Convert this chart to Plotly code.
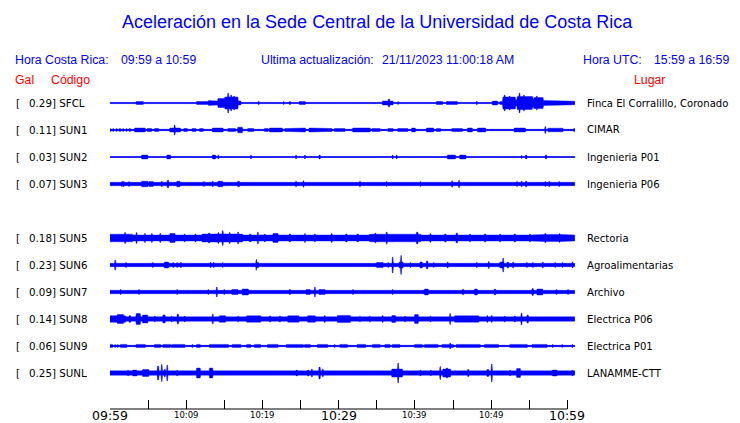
import numpy as np
import plotly.graph_objects as go

# ---------------- data ----------------
codes = ["SFCL", "SUN1", "SUN2", "SUN3", "SUN5", "SUN6", "SUN7", "SUN8", "SUN9", "SUNL"]
gal = [0.29, 0.11, 0.03, 0.07, 0.18, 0.23, 0.09, 0.14, 0.06, 0.25]
places = ["Finca El Corralillo, Coronado", "CIMAR", "Ingenieria P01", "Ingenieria P06",
          "Rectoria", "Agroalimentarias", "Archivo", "Electrica P06", "Electrica P01", "LANAMME-CTT"]
# resting half-amplitude of each trace (px)
base_amp = [0.6, 0.7, 0.5, 1.7, 3.0, 1.7, 1.7, 2.2, 0.7, 2.2]

# envelope events: (start minute, end minute, half-amplitude px), minutes after 09:59
ev_sfcl = [(0.26, 0.26, 1.3), (1.4, 1.4, 1), (1.7, 1.7, 1), (2.2, 2.2, 1), (3.5, 4.3, 1.5),
           (5.9, 5.9, 1.2), (6.2, 6.2, 1.2), (8.3, 8.3, 1), (11.4, 12.9, 1.5), (13.0, 13.8, 2.5),
           (13.8, 14.2, 2), (14.2, 15.1, 4.5), (15.1, 16.7, 6), (15.5, 15.5, 10), (15.9, 15.9, 8),
           (16.3, 16.3, 7), (16.7, 17.1, 2), (19.5, 19.5, 1.5), (22.8, 22.8, 1.5), (23.6, 23.6, 1.5),
           (24.9, 25.6, 1.5), (32.5, 32.5, 1), (33.7, 34.5, 1.2), (35.0, 35.0, 1), (35.8, 37.1, 2),
           (36.6, 36.6, 4), (37.8, 37.8, 1.5), (38.4, 38.4, 1), (40.7, 40.7, 1), (42.2, 42.2, 1),
           (42.9, 43.6, 1.5), (44.2, 45.5, 1.5), (47.0, 47.0, 1), (48.1, 48.1, 1.5), (48.9, 48.9, 1),
           (49.6, 49.6, 1), (50.2, 50.8, 2), (51.2, 51.6, 1.5), (51.6, 53.1, 6), (51.8, 51.8, 8),
           (52.4, 52.4, 7), (53.1, 53.5, 3), (53.5, 55.4, 6.5), (53.7, 53.7, 10), (54.3, 54.3, 8),
           (55.4, 55.6, 3), (55.6, 56.8, 5.5), (56.0, 56.0, 7), (56.8, 58.1, 2.5), (58.1, 61.0, 1.8)]
ev_sun1 = [(0.1, 0.1, 1.5), (0.4, 0.4, 1.5), (0.9, 0.9, 1.5), (1.3, 1.3, 1.5), (1.7, 1.7, 1.5),
           (2.2, 2.2, 1.5), (2.6, 2.6, 1.5), (3.3, 4.6, 2), (4.9, 5.4, 1.5), (5.9, 6.3, 1.5),
           (7.0, 7.0, 1), (7.5, 7.5, 1), (7.9, 9.2, 2), (8.5, 8.5, 5), (9.7, 10.1, 1.5),
           (10.8, 11.2, 1.5), (11.8, 12.2, 1.5), (12.9, 12.9, 1.2), (13.5, 14.8, 2), (15.5, 16.4, 1.5),
           (16.8, 17.3, 2.8), (18.1, 18.8, 1.5), (19.3, 19.3, 1.2), (20.3, 20.7, 1.5), (21.0, 22.6, 2),
           (23.0, 23.9, 1.5), (24.0, 25.6, 2), (26.2, 27.8, 2), (27.9, 29.1, 1.5), (29.5, 30.8, 1.5),
           (31.9, 34.1, 2), (34.4, 35.4, 1.5), (35.8, 35.8, 1.2), (36.5, 37.1, 1.5), (37.8, 39.0, 1.5),
           (39.6, 40.0, 2), (41.6, 42.4, 2), (42.9, 43.3, 1.5), (43.7, 43.7, 1.2), (44.9, 46.2, 1.5),
           (47.0, 47.5, 2), (48.3, 49.2, 2), (49.8, 49.8, 1.2), (50.5, 50.5, 1.2), (51.6, 51.6, 1.2),
           (52.2, 52.2, 1.2), (53.1, 54.4, 2), (55.4, 55.4, 1.2), (56.0, 56.0, 1.2), (57.1, 57.1, 3.5),
           (57.5, 59.4, 1.8), (60.3, 60.3, 1.2), (60.9, 60.9, 1.5)]
ev_sun2 = [(4.2, 4.9, 2), (5.2, 5.2, 1.2), (7.0, 7.0, 1.2), (7.5, 7.9, 2), (8.3, 8.3, 1.2),
           (11.5, 11.5, 1), (12.1, 12.1, 1.2), (13.5, 13.8, 2), (14.2, 14.2, 2), (15.3, 15.3, 1),
           (16.3, 16.3, 1.2), (16.8, 16.8, 1.2), (18.5, 18.5, 2), (24.4, 24.4, 2), (25.1, 25.1, 1.2),
           (25.6, 25.6, 2), (26.1, 26.1, 1.2), (27.5, 27.5, 2), (30.8, 30.8, 1), (32.8, 32.8, 1.2),
           (37.1, 37.1, 2), (37.6, 37.6, 2), (43.7, 43.7, 1.2), (44.3, 45.3, 2), (45.9, 46.6, 2),
           (48.1, 48.1, 1.2), (54.0, 54.0, 1.5), (54.6, 54.6, 2), (55.8, 55.8, 1), (57.2, 57.2, 2)]
ev_sun3 = [(1.6, 1.6, 2.8), (1.8, 1.8, 2.8), (2.5, 2.5, 2.5), (4.2, 4.9, 2.8), (5.2, 5.6, 2.6),
           (6.8, 6.8, 2.8), (7.6, 7.6, 3.8), (8.8, 9.1, 2.8), (12.3, 12.3, 2.5), (13.5, 13.5, 2.8),
           (14.2, 14.7, 2.8), (16.8, 16.9, 2.8), (24.4, 24.4, 2.8), (25.4, 25.4, 3.2), (32.8, 32.8, 2.8),
           (36.3, 36.3, 2.5), (40.7, 40.7, 2.5), (44.9, 44.9, 3.2), (45.8, 45.8, 3.8), (53.4, 53.4, 2.5),
           (54.0, 54.0, 2.8), (54.6, 54.6, 2.8), (57.1, 57.1, 2.5), (57.6, 57.6, 2.8), (58.9, 58.9, 2.5)]
ev_sun5 = [(0.0, 2.9, 3.8), (2.0, 2.0, 5.5), (3.5, 3.5, 5.5), (4.6, 4.6, 4.5), (1.0, 1.0, 4.5),
           (5.5, 5.5, 4.5), (6.6, 6.6, 4.5), (7.9, 8.5, 4.5), (9.8, 9.8, 4), (11.2, 11.2, 4),
           (12.1, 17.3, 4.0), (13.0, 13.0, 5), (14.8, 14.8, 7.5), (14.2, 14.2, 5.5), (15.7, 15.7, 5.5),
           (16.8, 16.8, 6), (19.4, 19.4, 6), (18.4, 18.4, 4), (20.3, 20.3, 4), (21.4, 22.0, 4.5),
           (23.6, 23.6, 4), (25.6, 25.6, 4.5), (26.9, 26.9, 4), (29.1, 29.1, 4.5), (31.0, 31.0, 4),
           (32.5, 32.5, 4), (34.1, 40.7, 3.8), (36.3, 36.3, 6), (34.8, 34.8, 5), (38.0, 38.0, 4.5),
           (40.3, 40.3, 6), (42.0, 42.0, 4.5), (44.0, 44.0, 4), (45.5, 45.5, 5), (47.2, 47.2, 4),
           (49.2, 49.2, 4), (51.2, 51.2, 4), (53.1, 53.1, 4), (55.1, 55.1, 4), (56.4, 60.7, 3.6),
           (57.1, 57.1, 4.8), (59.0, 59.0, 4.5)]
ev_sun6 = [(0.7, 0.7, 5), (2.1, 2.1, 2.5), (5.6, 5.6, 2.5), (7.2, 7.6, 3), (8.3, 8.3, 2.5),
           (8.8, 8.8, 2.5), (9.3, 9.3, 2.5), (13.2, 13.2, 2.5), (13.6, 13.6, 2.5), (14.8, 14.8, 2.5),
           (19.2, 19.2, 5.5), (19.4, 19.4, 3), (23.0, 24.3, 2.3), (29.5, 29.5, 2), (35.0, 35.8, 2.5),
           (36.5, 36.5, 2.5), (37.1, 37.1, 8), (38.0, 38.4, 3), (38.2, 38.2, 9.5), (39.4, 39.4, 2.5),
           (40.7, 40.9, 3), (41.6, 41.6, 4), (42.5, 42.5, 2.5), (44.3, 44.3, 3), (48.1, 48.1, 2.5),
           (49.7, 49.7, 3.5), (51.2, 51.6, 3), (51.6, 51.6, 7), (52.2, 52.2, 3), (52.9, 52.9, 3),
           (54.7, 54.7, 2.5), (55.5, 55.5, 2.5), (56.8, 56.8, 3), (58.4, 58.4, 2.5), (59.4, 59.4, 2.5),
           (60.7, 60.7, 3)]
ev_sun7 = [(1.4, 1.4, 2.5), (3.8, 3.8, 2.5), (5.0, 5.0, 2.3), (7.1, 7.1, 2.3), (8.8, 8.8, 2.5),
           (12.9, 12.9, 2.5), (14.0, 14.0, 5), (15.0, 15.0, 2.5), (16.0, 16.7, 2.5), (17.4, 18.1, 3),
           (23.6, 23.6, 2.5), (25.8, 26.2, 2.5), (26.9, 26.9, 5), (27.5, 28.2, 2.5), (30.2, 30.2, 2.3),
           (31.9, 31.9, 2.5), (33.1, 33.1, 2.3), (35.0, 35.0, 2.3), (37.1, 37.1, 2.5), (38.7, 38.7, 2.3),
           (41.3, 41.7, 3), (42.9, 42.9, 2.3), (44.9, 44.9, 2.3), (46.3, 46.3, 3), (47.9, 48.1, 3),
           (50.5, 50.5, 3), (52.1, 52.1, 2.3), (53.4, 53.4, 2.3), (55.4, 55.5, 3.5), (56.1, 56.7, 3),
           (58.6, 58.6, 2.5), (60.1, 60.1, 2.5)]
ev_sun8 = [(0.0, 2.0, 3.3), (1.0, 1.7, 4.5), (3.5, 3.9, 5.5), (4.3, 4.9, 4), (2.6, 2.6, 3.5),
           (5.9, 5.9, 3), (7.0, 7.2, 4), (8.9, 8.9, 5), (8.1, 8.1, 3), (9.8, 9.8, 3), (10.8, 12.5, 2.9),
           (13.5, 13.5, 5), (14.4, 15.1, 3.3), (16.8, 16.8, 3), (18.0, 19.7, 3.2), (21.0, 21.0, 3),
           (22.3, 22.3, 3), (23.4, 24.7, 3.2), (26.0, 26.9, 3.3), (28.2, 28.2, 3.5), (29.9, 31.5, 3.6),
           (32.8, 32.8, 3), (34.1, 34.1, 3), (35.8, 35.8, 3.5), (37.0, 37.4, 3.5), (38.7, 38.7, 3),
           (40.0, 40.4, 4.5), (42.0, 42.0, 3), (44.6, 44.6, 5.5), (45.3, 48.3, 3.2), (49.5, 49.5, 3.5),
           (50.1, 50.1, 3.5), (51.8, 51.8, 3), (53.1, 53.1, 3), (54.0, 54.0, 6), (54.8, 54.8, 4),
           (56.4, 60.7, 2.9)]
ev_sun9 = [(0.0, 0.3, 1.6), (0.7, 0.7, 1.6), (1.0, 1.0, 1.6), (1.4, 2.2, 1.6), (3.5, 4.6, 1.6),
           (5.9, 6.6, 1.6), (7.0, 7.9, 1.6), (8.1, 9.8, 1.6), (10.8, 10.8, 1.6), (11.4, 11.8, 1.6),
           (13.1, 15.5, 1.6), (16.1, 17.1, 1.6), (18.0, 18.4, 1.6), (19.0, 19.7, 1.6), (20.7, 22.0, 1.6),
           (23.2, 25.3, 1.6), (25.6, 26.2, 1.6), (27.3, 28.5, 1.6), (29.5, 29.5, 1.6), (30.2, 31.1, 1.6),
           (32.5, 33.5, 1.6), (34.5, 35.4, 1.6), (36.1, 36.7, 1.6), (37.1, 38.0, 1.6), (40.0, 40.9, 1.6),
           (41.3, 43.0, 1.6), (43.6, 45.0, 1.6), (44.6, 44.6, 3), (45.5, 48.5, 1.6), (49.2, 50.9, 1.6),
           (52.5, 54.7, 1.6), (55.4, 57.3, 1.6), (58.1, 58.1, 1.6), (59.3, 59.3, 1.6), (60.7, 60.7, 1.6)]
ev_sunl = [(2.4, 2.4, 3), (3.0, 3.5, 3), (4.3, 5.0, 3.5), (6.3, 6.3, 7), (6.8, 6.8, 8.5),
           (7.2, 7.2, 4), (7.5, 7.5, 8), (8.8, 8.8, 3), (11.4, 11.8, 5), (13.1, 13.4, 5),
           (17.1, 17.1, 2.8), (18.1, 18.1, 2.8), (24.5, 24.5, 3), (26.0, 26.0, 3), (26.5, 26.5, 4),
           (27.5, 27.5, 6), (27.9, 27.9, 4), (31.5, 31.5, 2.8), (35.0, 35.0, 2.8), (37.0, 38.3, 4),
           (37.8, 37.8, 10), (40.7, 40.7, 3), (42.1, 42.1, 3), (43.3, 43.3, 6.5), (43.7, 44.6, 4),
           (44.2, 44.2, 5), (47.0, 47.0, 3.5), (49.5, 49.6, 3.5), (50.1, 50.1, 9), (52.5, 52.5, 3),
           (53.4, 53.8, 4.5), (55.5, 55.5, 2.8), (58.1, 58.6, 3), (60.7, 60.7, 3)]
events = [ev_sfcl, ev_sun1, ev_sun2, ev_sun3, ev_sun5, ev_sun6, ev_sun7, ev_sun8, ev_sun9, ev_sunl]

tick_minutes = list(range(0, 61, 5))
label_minutes = [0, 10, 20, 30, 40, 50, 60]
label_texts = ["09:59", "10:09", "10:19", "10:29", "10:39", "10:49", "10:59"]
major_labels = ["09:59", "10:29", "10:59"]

# ---------------- layout constants ----------------
PAGE_OFF = 8                      # default page body margin
W, H = 740 - PAGE_OFF, 423 - PAGE_OFF
PLOT_X0, PLOT_X1 = 110, 575       # plot area in page pixels
PLOT_Y0, PLOT_Y1 = 85, 409
L = PLOT_X0 - PAGE_OFF
T = PLOT_Y0 - PAGE_OFF
R = W - L - (PLOT_X1 - PLOT_X0)
B = H - T - (PLOT_Y1 - PLOT_Y0)
ROW = 27
ROW0 = 103
X_END = 61.0
BLUE = "#0000ff"
TXT_FONT = "DejaVu Sans"
HDR_FONT = "Liberation Sans, Arial, sans-serif"

fig = go.Figure()

# row slots (gap where SUN4 is missing)
slots = []
s = 0
for c in codes:
    slots.append(s)
    s += 1
    if c == "SUN3":
        s += 1

xs = np.arange(0, X_END + 1e-9, 0.065)
for i, c in enumerate(codes):
    yc = slots[i] * ROW
    env = np.full_like(xs, base_amp[i])
    for (t0, t1, h) in events[i]:
        m = (xs >= t0 - 0.07) & (xs <= t1 + 0.07)
        env[m] = np.maximum(env[m], h)
    px = np.concatenate([xs, xs[::-1]])
    py = np.concatenate([yc - env, (yc + env)[::-1]])
    fig.add_trace(go.Scatter(x=px, y=py, mode="lines", fill="toself", fillcolor=BLUE,
                             line=dict(color=BLUE, width=0.4), hoverinfo="skip", showlegend=False))
    fig.add_trace(go.Scatter(x=[0, X_END], y=[yc, yc], mode="lines",
                             line=dict(color=BLUE, width=1), hoverinfo="skip", showlegend=False))

y_top = PLOT_Y0 - ROW0
y_bot = PLOT_Y1 - ROW0


def xp(p):
    return (p - PLOT_X0) / (PLOT_X1 - PLOT_X0)


def yp(p):
    return (PLOT_Y1 - p) / (PLOT_Y1 - PLOT_Y0)


ann = []
# station labels
for i, c in enumerate(codes):
    ry = ROW0 + slots[i] * ROW
    ann.append(dict(x=xp(14), y=yp(ry), text="[", xanchor="left", yanchor="middle",
                    font=dict(family=TXT_FONT, size=10.3, color="black")))
    ann.append(dict(x=xp(27), y=yp(ry), text=f"{gal[i]:.2f}] {c}", xanchor="left", yanchor="middle",
                    font=dict(family=TXT_FONT, size=10.3, color="black")))
    ann.append(dict(x=xp(585), y=yp(ry), text=places[i], xanchor="left", yanchor="middle",
                    font=dict(family=TXT_FONT, size=10.1, color="black")))

# time labels
for m, t in zip(label_minutes, label_texts):
    big = t in major_labels
    ann.append(dict(x=m / X_END, y=yp(415.5 if big else 415), text=t, xanchor="center", yanchor="middle",
                    font=dict(family=TXT_FONT, size=12.5 if big else 8.5, color="black")))


def hdr(xpx, ypx, text, size, color, anchor="left"):
    ann.append(dict(x=xp(xpx), y=yp(ypx), text=text, xanchor=anchor, yanchor="middle",
                    font=dict(family=HDR_FONT, size=size, color=color)))


hdr(377, 22, "Aceleración en la Sede Central de la Universidad de Costa Rica", 18, BLUE, "center")
hdr(13, 60, "Hora Costa Rica:", 12.3, BLUE)
hdr(119, 60, "09:59 a 10:59", 12.3, BLUE)
hdr(259, 60, "Ultima actualización:", 12.3, BLUE)
hdr(380, 60, "21/11/2023 11:00:18 AM", 12.3, BLUE)
hdr(581, 60, "Hora UTC:", 12.3, BLUE)
hdr(652, 60, "15:59 a 16:59", 12.3, BLUE)
hdr(13, 80, "Gal", 12.3, "red")
hdr(49, 80, "Código", 12.3, "red")
hdr(632, 80, "Lugar", 12.3, "red")

for a in ann:
    a.update(showarrow=False, xref="paper", yref="paper")

fig.update_layout(
    width=W, height=H,
    margin=dict(l=L, r=R, t=T, b=B, pad=0),
    paper_bgcolor="white", plot_bgcolor="white",
    annotations=ann,
    xaxis=dict(range=[0, X_END], showgrid=False, zeroline=False, showline=False,
               tickvals=tick_minutes, ticks="inside", ticklen=9, tickwidth=1, tickcolor="black",
               showticklabels=False, fixedrange=True),
    yaxis=dict(range=[y_bot, y_top], showgrid=False, zeroline=False, showline=False,
               showticklabels=False, ticks="", fixedrange=True),
    shapes=[dict(type="line", xref="x", yref="paper", x0=0, x1=60, y0=0, y1=0,
                 line=dict(color="black", width=1))],
    showlegend=False,
)

fig.write_html("out.html", config={"displayModeBar": False})
